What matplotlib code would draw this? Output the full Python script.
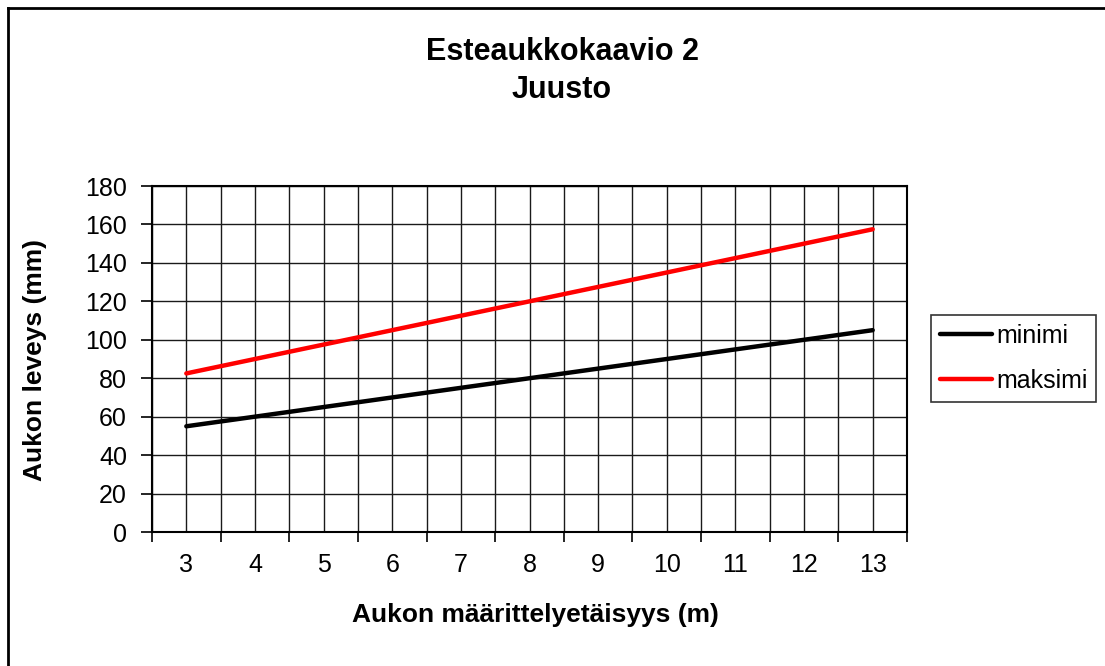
import numpy as np
import matplotlib as mpl
mpl.use("Agg")
import matplotlib.pyplot as plt
from matplotlib.ticker import FixedLocator

mpl.rcParams.update({
    "font.family": ["Liberation Sans", "DejaVu Sans"],
    "axes.linewidth": 1.5,
})

# ---- data ---------------------------------------------------------------
distances = [3, 4, 5, 6, 7, 8, 9, 10, 11, 12, 13]          # m
minimi = [55, 60, 65, 70, 75, 80, 85, 90, 95, 100, 105]      # mm
maksimi = [82.5, 90, 97.5, 105, 112.5, 120, 127.5, 135, 142.5, 150, 157.5]
y_ticks = [0, 20, 40, 60, 80, 100, 120, 140, 160, 180]

W, H = 1105, 666
fig = plt.figure(figsize=(W / 100, H / 100), dpi=100)
ax = fig.add_axes([152 / W, 1 - 532 / H, (907 - 152) / W, (532 - 186) / H])

x = np.arange(len(distances))
ax.plot(x, minimi, color="black", lw=3.2, solid_capstyle="round", label="minimi", zorder=3)
ax.plot(x, maksimi, color="#FF0000", lw=3.2, solid_capstyle="round", label="maksimi", zorder=3)

# category axis: labels on the categories, ticks between them
ax.set_xlim(-0.5, len(distances) - 0.5)
ax.set_xticks(x)
ax.set_xticklabels([str(d) for d in distances])
ax.xaxis.set_minor_locator(FixedLocator(np.arange(-0.5, len(distances), 1.0)))
ax.tick_params(axis="x", which="major", length=0, pad=15, labelsize=18)
ax.tick_params(axis="x", which="minor", length=7, width=1.2, direction="out")

ax.set_ylim(0, 180)
ax.set_yticks(y_ticks)
ax.tick_params(axis="y", length=8, width=1.2, direction="out", pad=10, labelsize=18)

ax.grid(True, which="both", axis="x", color="#1a1a1a", lw=1.0)
ax.grid(True, which="major", axis="y", color="#1a1a1a", lw=1.0)
ax.set_axisbelow(True)

fig.text(562 / W, 1 - 52 / H, "Esteaukkokaavio 2", ha="center", va="center",
         fontsize=22, weight="bold")
fig.text(562 / W, 1 - 90 / H, "Juusto", ha="center", va="center",
         fontsize=22, weight="bold")
fig.text(535 / W, 1 - 615 / H, "Aukon määrittelyetäisyys (m)", ha="center",
         va="center", fontsize=19, weight="bold")
fig.text(35 / W, 1 - 360 / H, "Aukon leveys (mm)", ha="center", va="center",
         rotation=90, fontsize=19, weight="bold")

leg = fig.legend(loc="upper left", bbox_to_anchor=(931 / W, 1 - 315 / H),
                 fontsize=18, frameon=True, fancybox=False, edgecolor="black",
                 handlelength=2.1, handletextpad=0.15, borderpad=0.35,
                 labelspacing=0.85, borderaxespad=0)
leg.get_frame().set_linewidth(1.2)

# chart area border (top and left edges visible)
fig.add_artist(plt.Line2D([8 / W, 8 / W], [0, 1 - 8 / H], transform=fig.transFigure,
                          color="black", lw=2))
fig.add_artist(plt.Line2D([8 / W, 1], [1 - 8 / H, 1 - 8 / H], transform=fig.transFigure,
                          color="black", lw=2))

fig.savefig("out.png", dpi=100)
